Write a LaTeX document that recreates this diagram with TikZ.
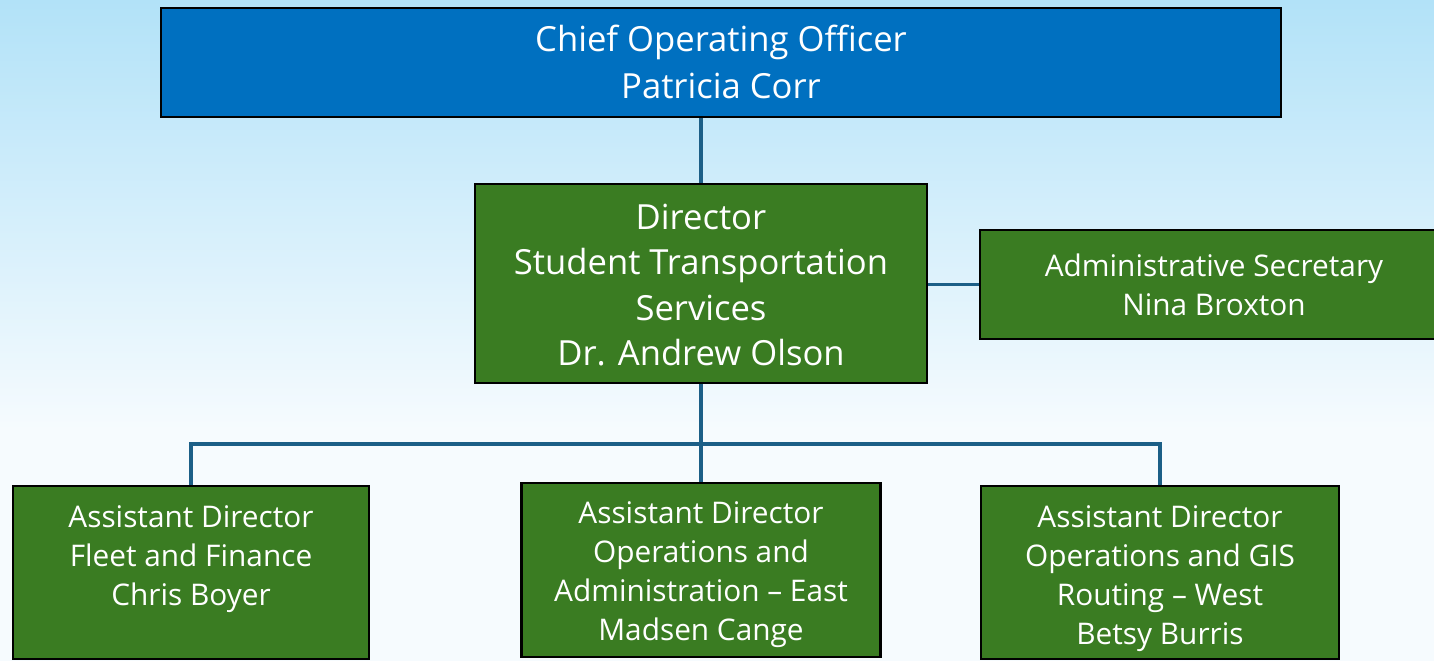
\documentclass[tikz,border=0pt]{standalone}
\usepackage{fontspec}
\setmainfont{Open Sans}
\definecolor{coo}{HTML}{0070C0}
\definecolor{grn}{HTML}{3A7C22}
\definecolor{conn}{HTML}{1C5F87}
\definecolor{bgtop}{HTML}{B2E2F8}
\definecolor{bgbot}{HTML}{F6FBFE}
\tikzset{
  box/.style={draw=black, line width=1.1pt, inner sep=0pt, text=white, align=center, anchor=center},
  bigtext/.style={font=\fontsize{17.3}{22.8}\selectfont},
  smalltext/.style={font=\fontsize{14.9}{19.4}\selectfont},
  link/.style={draw=conn, line width=1.6pt}
}
\begin{document}
\begin{tikzpicture}[x=0.5pt,y=-0.5pt]
\useasboundingbox (0,0) rectangle (1434,661);
\clip (0,0) rectangle (1434,661);
\shade[top color=bgtop, bottom color=bgbot] (0,0) rectangle (1434,430);
\fill[bgbot] (0,429) rectangle (1434,661);
\node[box, fill=coo, minimum width=560pt, minimum height=54.5pt] (coo) at (721,62.5) {};
\node[text=white, align=center, font=\fontsize{17.3}{23.5}\selectfont, inner sep=0pt] (coot) at (721,62) {Chief Operating Officer\\Patricia Corr};
\node[box, fill=grn, minimum width=226pt, minimum height=99.5pt] (dir) at (701,283.5) {};
\node[text=white, align=center, bigtext, inner sep=0pt] (dirt) at (701,285) {Director\\Student Transportation\\Services\\Dr. Andrew Olson};
\node[box, fill=grn, minimum width=234pt, minimum height=54.5pt] (sec) at (1214,284.5) {};
\node[text=white, align=center, smalltext, inner sep=0pt] (sect) at (1214,285) {Administrative Secretary\\Nina Broxton};
\node[box, fill=grn, minimum width=178pt, minimum height=86.5pt] (a1) at (191,572.5) {};
\node[text=white, align=center, smalltext, inner sep=0pt] (a1t) at (191,559) {Assistant Director\\Fleet and Finance\\Chris Boyer};
\node[box, fill=grn, minimum width=179.5pt, minimum height=87pt] (a2) at (701,570) {};
\node[text=white, align=center, smalltext, inner sep=0pt] (a2t) at (701,574.5) {Assistant Director\\Operations and\\Administration -- East\\Madsen Cange};
\node[box, fill=grn, minimum width=179pt, minimum height=86.5pt] (a3) at (1160,572.5) {};
\node[text=white, align=center, smalltext, inner sep=0pt] (a3t) at (1160,578.5) {Assistant Director\\Operations and GIS\\Routing -- West\\Betsy Burris};
\coordinate (bar) at (701,444);
\draw[link] (coo.south -| dir.north) -- (dir.north);
\draw[link] (dir.east |- sec.west) -- (sec.west);
\draw[link] (dir.south) -- (a2.north);
\draw[link] (a1.north) |- (bar) -| (a3.north);
\end{tikzpicture}
\end{document}
